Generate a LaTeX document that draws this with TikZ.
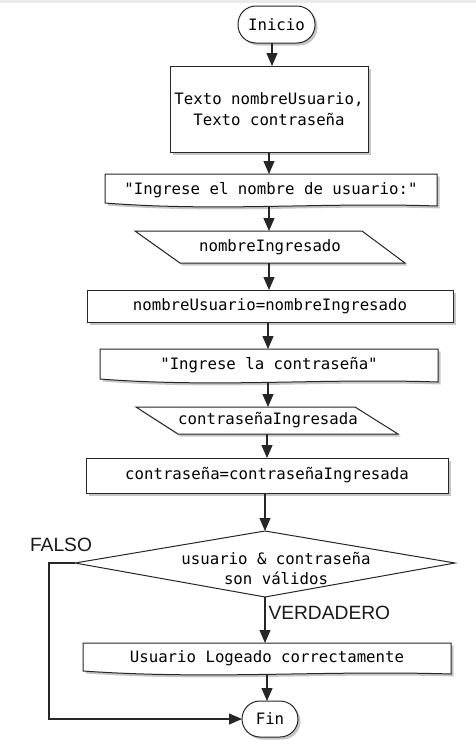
\documentclass[tikz,border=0pt]{standalone}
\usepackage{fontspec}
\setmonofont{DejaVu Sans Mono}
\newfontfamily\labfont{Liberation Sans}
\usetikzlibrary{arrows.meta,shadows,calc}
\begin{document}
\begin{tikzpicture}[x=1pt,y=-1pt,
  every node/.style={font=\ttfamily\fontsize{15.7}{20.5}\selectfont, inner sep=0pt, outer sep=0pt},
  shad/.style={drop shadow={shadow xshift=2.5pt, shadow yshift=-2.5pt, fill=black!45, opacity=0.5}},
  outline/.style={draw=black!85, line width=1pt, fill=white, shad},
  procbox/.style={rectangle, outline, align=center},
  termbox/.style={rectangle, rounded corners=18pt, outline},
  txt/.style={align=center},
  arr/.style={draw=black!85, line width=1.1pt, -{Triangle[length=13pt,width=11pt]}},
  lab/.style={font=\labfont\fontsize{19.2}{20}\selectfont, text=black!90}
]
\useasboundingbox (0,0) rectangle (476,745);
\fill[black!8] (0,0) rectangle (476,3);

% axis coordinates
\coordinate (ax272) at (272,0);
\coordinate (ax269) at (269,0);
\coordinate (ax268) at (268,0);
\coordinate (ax267) at (267,0);
\coordinate (ax265) at (265,0);

% Inicio
\node[termbox, minimum width=77pt, minimum height=37pt] (inicio) at (276.5,24.5) {Inicio};

% Texto declarations
\node[procbox, minimum width=198pt, minimum height=86pt] (texto) at (269,109) {Texto nombreUsuario,\\Texto contraseña};

% Output 1 (document)
\path[outline] (105,174) -- (437,174) -- (437,206) .. controls (321,202) and (221,212) .. (105,203) -- cycle;
\node[txt, minimum width=332pt, minimum height=32pt] (msg1) at (271,190) {"Ingrese el nombre de usuario:"};

% Input 1 (parallelogram)
\path[outline] (135,231) -- (362,231) -- (405,263) -- (180,263) -- cycle;
\node[txt, minimum width=225pt, minimum height=32pt] (nomIng) at (270,247) {nombreIngresado};

% Assignment 1
\node[procbox, minimum width=366pt, minimum height=32pt] (asig1) at (270,306) {nombreUsuario=nombreIngresado};

% Output 2 (document)
\path[outline] (100,349) -- (438,349) -- (438,382) .. controls (320,378) and (218,388) .. (100,379) -- cycle;
\node[txt, minimum width=338pt, minimum height=33pt] (msg2) at (269,365.5) {"Ingrese la contraseña"};

% Input 2 (parallelogram)
\path[outline] (136,407) -- (355,407) -- (398,434) -- (178,434) -- cycle;
\node[txt, minimum width=220pt, minimum height=27pt] (passIng) at (268,420.5) {contraseñaIngresada};

% Assignment 2
\node[procbox, minimum width=362pt, minimum height=35pt] (asig2) at (267,475.5) {contraseña=contraseñaIngresada};

% Decision
\coordinate (dT) at (265,531);
\coordinate (dL) at (75,563);
\coordinate (dR) at (455,563);
\coordinate (dB) at (265,597);
\draw[black!85, line width=1pt, fill=white] (dT) -- (dR) -- (dB) -- (dL) -- cycle;
\node[txt] (dtext) at (276,568.5) {usuario \& contraseña\\son válidos};

% Output 3 (document)
\path[outline] (83,643) -- (451,643) -- (451,674) .. controls (322,670) and (212,680) .. (83,671) -- cycle;
\node[txt, minimum width=368pt, minimum height=31pt] (ok) at (267,658.5) {Usuario Logeado correctamente};

% Fin
\node[termbox, minimum width=56pt, minimum height=36pt] (fin) at (270,719) {Fin};

% Connectors
\draw[arr] (inicio.south -| ax272) -- (texto.north -| ax272);
\draw[arr] (texto.south -| ax269) -- (msg1.north -| ax269);
\draw[arr] (msg1.south -| ax269) -- (nomIng.north -| ax269);
\draw[arr] (nomIng.south -| ax269) -- (asig1.north -| ax269);
\draw[arr] (asig1.south -| ax268) -- (msg2.north -| ax268);
\draw[arr] (msg2.south -| ax268) -- (passIng.north -| ax268);
\draw[arr] (passIng.south -| ax267) -- (asig2.north -| ax267);
\draw[arr] (asig2.south -| ax265) -- (dT);
\draw[arr] (dB) -- (ok.north -| ax265);
\draw[arr] (ok.south -| ax267) -- (fin.north -| ax267);
\draw[arr] (dL) -- ++(-26,0) |- (fin.west);

% Labels
\node[lab] (falso) at (61,545) {FALSO};
\node[lab, anchor=west] (verd) at (268.5,613) {VERDADERO};
\end{tikzpicture}
\end{document}
